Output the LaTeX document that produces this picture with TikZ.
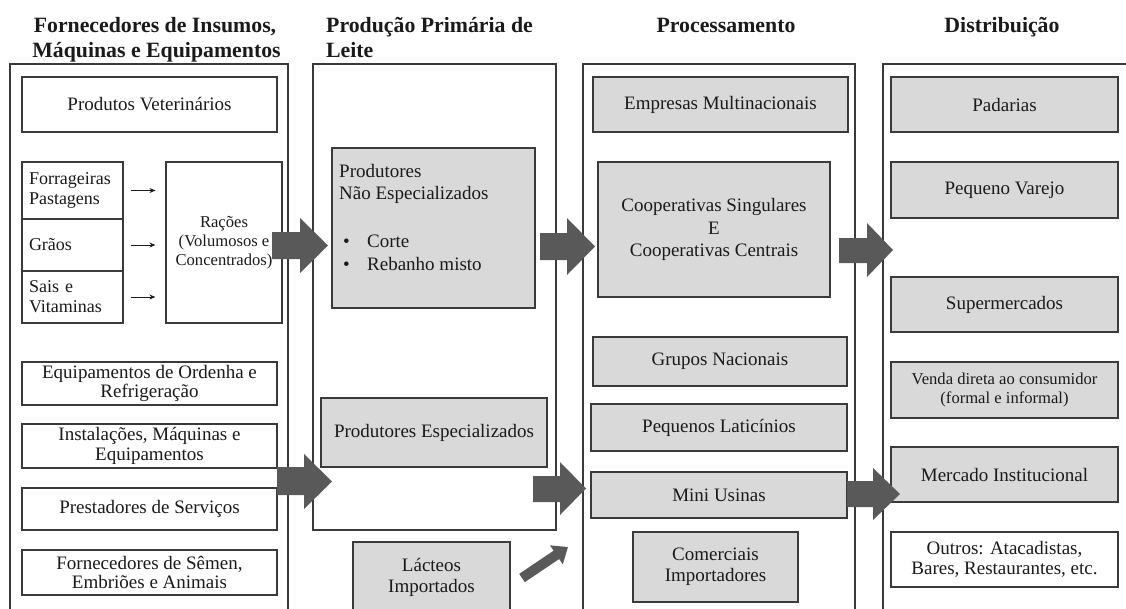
\documentclass[tikz,border=0pt]{standalone}
\usepackage{fontspec}
\setmainfont{Liberation Serif}
\usetikzlibrary{arrows.meta}
\definecolor{grayf}{HTML}{D9D9D9}
\definecolor{arrc}{HTML}{595959}
\definecolor{linec}{HTML}{3A3A3A}
\definecolor{txt}{HTML}{1A1A1A}
\newcommand\myfs[2]{\fontsize{#1}{#2}\selectfont}
% \bx{style}{x1}{y1}{x2}{y2}{name}
\newcommand\bx[6]{\node[#1, minimum width={#4-#2}, minimum height={#5-#3}] (#6) at ({(#2+#4)/2},{(#3+#5)/2})}
\begin{document}
\begin{tikzpicture}[x=1pt,y=-1pt,
  box/.style={draw=linec, line width=1.2pt, inner sep=0pt, align=center, text=txt, font=\myfs{19}{19.5}},
  gbox/.style={box, fill=grayf},
  col/.style={draw=linec, line width=1.2pt, inner sep=0pt},
  blk/.style={fill=arrc},
  ttl/.style={font=\bfseries\myfs{21.8}{25}, text=txt, inner sep=0pt, anchor=base},
  lbl/.style={text=txt, inner sep=0pt},
  sarr/.style={draw=txt, line width=1pt, -{Stealth[length=6pt,width=5pt]}}]
\useasboundingbox (0,0) rectangle (1126,608);
\fill[white] (0,0) rectangle (1126,608);

% titles
\node[ttl] (t1a) at (155,32) {Fornecedores de Insumos,};
\node[ttl] (t1b) at (156.5,57) {Máquinas e Equipamentos};
\node[ttl, anchor=base west] (t2a) at (326,32) {Produção Primária de};
\node[ttl, anchor=base west] (t2b) at (326,57) {Leite};
\node[ttl] (t3) at (726,32) {Processamento};
\node[ttl] (t4) at (1002,32) {Distribuição};

% column frames
\bx{col}{10}{64}{288}{640}{c1} {};
\bx{col}{313}{64}{556}{530}{c2} {};
\bx{col}{583}{64}{855}{640}{c3} {};
\bx{col}{883}{64}{1140}{640}{c4} {};

% column 1
\bx{box}{22}{77}{277}{132}{vet} {Produtos Veterinários};
\bx{box, align=left, text width=87pt, font=\myfs{18}{20}}{22}{162}{123}{219}{forr} {Forrageiras\\Pastagens};
\bx{box, align=left, text width=87pt, font=\myfs{18}{20}}{22}{219}{123}{271}{grao} {Grãos};
\bx{box, align=left, text width=87pt, font=\myfs{18}{20}}{22}{271}{123}{323}{sais} {Sais e\\Vitaminas};
\bx{box, font=\myfs{16.6}{19}}{166}{162}{282}{323}{rac} {Rações\\(Volumosos e\\Concentrados)};
\draw[sarr, shorten <=7pt, shorten >=10pt] (forr.east) -- (forr.east -| rac.west);
\draw[sarr, shorten <=7pt, shorten >=10pt] (grao.east) -- (grao.east -| rac.west);
\draw[sarr, shorten <=7pt, shorten >=10pt] (sais.east) -- (sais.east -| rac.west);
\bx{box}{22}{362}{277}{405}{ord} {Equipamentos de Ordenha e\\Refrigeração};
\bx{box}{22}{424}{277}{468}{inst} {Instalações, Máquinas e\\Equipamentos};
\bx{box}{22}{488}{277}{530}{prest} {Prestadores de Serviços};
\bx{box}{22}{550}{277}{595}{semen} {Fornecedores de Sêmen,\\Embriões e Animais};

% column 2
\bx{gbox}{332}{148}{535}{308}{pne} {};
\node[lbl, anchor=north west, align=left, font=\myfs{19}{22.5}] (pnet) at (339,164)
  {Produtores\\Não Especializados\\[25.5pt]\hspace*{4pt}\makebox[24pt][l]{•}Corte\\\hspace*{4pt}\makebox[24pt][l]{•}Rebanho misto};
\bx{gbox}{321}{398}{547}{467}{pe} {Produtores Especializados};
\bx{gbox, font=\myfs{19}{21}}{353}{542}{510}{613}{lac} {Lácteos\\Importados};

% column 3
\bx{gbox}{593}{77}{848}{132}{emp} {Empresas Multinacionais};
\bx{gbox, font=\myfs{19}{22.5}}{598}{162}{830}{297}{coop} {Cooperativas Singulares\\E\\Cooperativas Centrais};
\bx{gbox}{593}{337}{847}{386}{grp} {Grupos Nacionais};
\bx{gbox}{591}{404}{847}{451}{peq} {Pequenos Laticínios};
\bx{gbox}{591}{472}{847}{518}{mini} {Mini Usinas};
\bx{gbox, font=\myfs{19}{21}}{633}{532}{798}{602}{com} {Comerciais\\Importadores};

% column 4
\bx{gbox}{891}{77}{1118}{132}{pad} {Padarias};
\bx{gbox}{891}{162}{1118}{218}{var} {Pequeno Varejo};
\bx{gbox}{891}{277}{1118}{332}{sup} {Supermercados};
\bx{gbox, font=\myfs{16.6}{18.5}}{891}{362}{1118}{418}{ven} {Venda direta ao consumidor\\(formal e informal)};
\bx{gbox}{891}{447}{1118}{502}{merc} {Mercado Institucional};
\bx{box, font=\myfs{19}{20}}{891}{532}{1118}{587}{out} {Outros: Atacadistas,\\Bares, Restaurantes, etc.};

% block arrows
\fill[blk] (272,232) -- (300,232) -- (300,218) -- (328,245.5) -- (300,273) -- (300,259) -- (272,259) -- cycle;
\fill[blk] (277,467) -- (304,467) -- (304,454) -- (332,481.5) -- (304,509) -- (304,495) -- (277,495) -- cycle;
\fill[blk] (540,233) -- (567,233) -- (567,218) -- (595,246.5) -- (567,275) -- (567,260) -- (540,260) -- cycle;
\fill[blk] (533,476) -- (560,476) -- (560,462) -- (586,488.5) -- (560,515) -- (560,502) -- (533,502) -- cycle;
\fill[blk] (839,238) -- (867,238) -- (867,223) -- (893,250) -- (867,277) -- (867,263) -- (839,263) -- cycle;
\fill[blk] (847,481) -- (873,481) -- (873,468) -- (900,494) -- (873,520) -- (873,507) -- (847,507) -- cycle;

% diagonal arrow from Lácteos
\coordinate (d1) at (522,578);
\coordinate (d2) at (568,547);
\draw[draw=arrc, line width=10pt, -{Triangle[length=14pt,width=22pt]}] (d1) -- (d2);
\end{tikzpicture}
\end{document}
